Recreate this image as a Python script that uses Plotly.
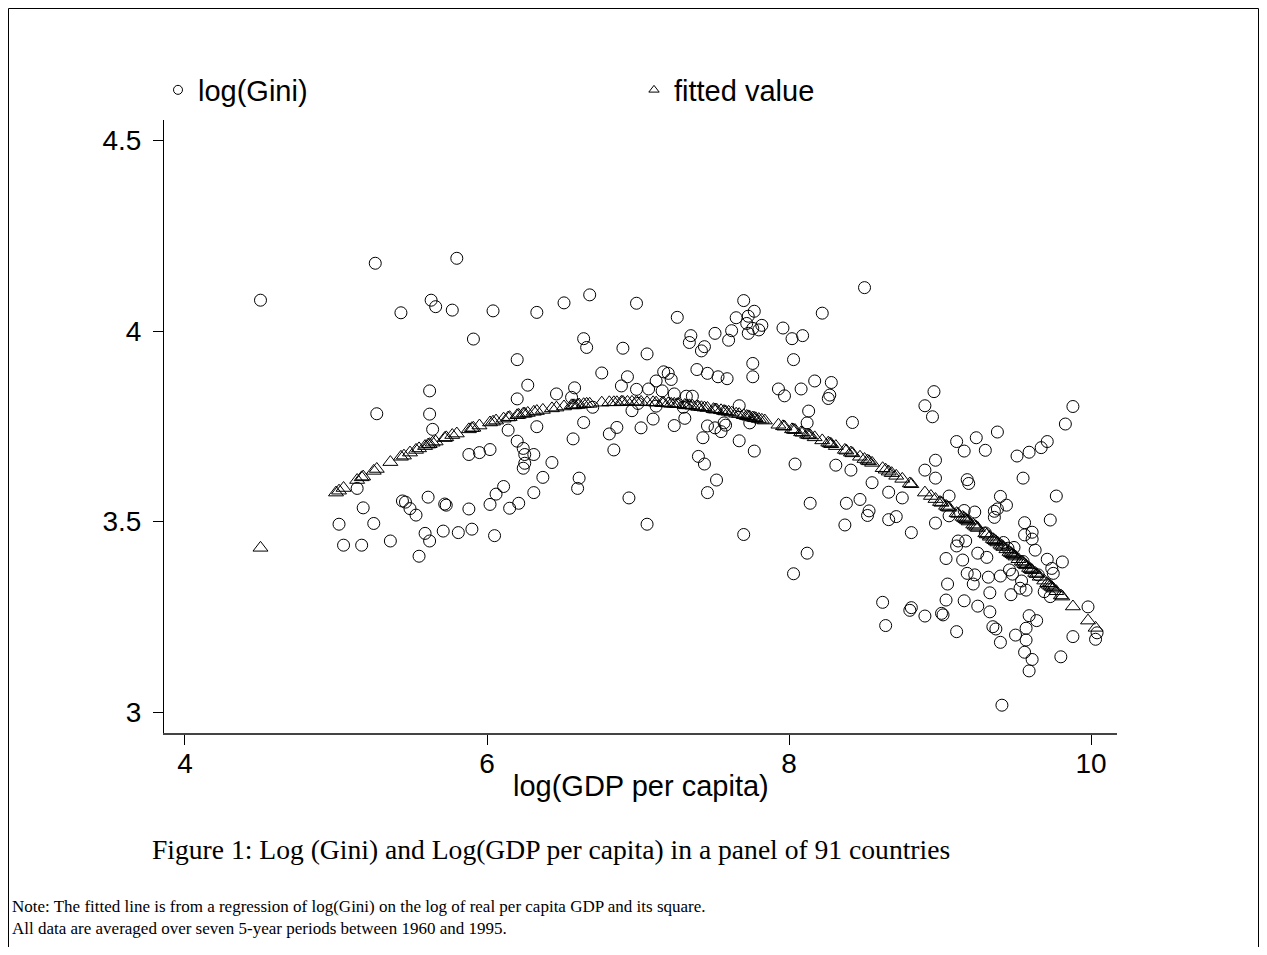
import plotly.graph_objects as go

# ---- data ----
gini_x = [
    4.50, 5.26, 5.80, 5.63, 5.66, 5.77, 5.43, 5.91, 5.62, 5.27, 5.62, 5.64, 5.88,
    5.14, 5.18, 5.02, 5.25, 5.05, 5.17, 5.36, 5.44, 5.46, 5.61, 5.49, 5.53, 5.59,
    5.62, 5.55, 5.72, 5.73, 5.71, 5.81, 5.88, 5.90,
    6.04, 6.33, 6.51, 6.68, 6.99, 7.26, 6.64, 6.66, 6.90, 7.06, 6.20, 6.76, 6.93,
    7.17, 7.20, 7.22, 7.12, 6.27, 6.58, 6.89, 6.99, 7.07, 7.16, 7.24, 6.20, 6.46,
    6.56, 6.96, 7.12, 7.10, 7.24, 6.14, 6.33, 6.64, 6.86, 7.02, 6.81, 6.57, 6.20,
    5.95, 6.02, 6.24, 6.25, 6.31, 6.25, 6.24, 6.43, 6.84, 6.37, 6.61,
    6.11, 6.06, 6.31, 6.60, 6.02, 6.15, 6.21, 6.94, 6.05, 7.06,
    8.50, 7.70, 8.22, 7.77, 7.73, 7.65, 7.82, 7.80, 7.76, 7.73, 7.72, 7.62, 7.60,
    7.51, 7.35, 7.34, 7.44, 7.42, 7.96, 8.02, 8.09, 8.03, 7.76, 7.76, 7.39, 7.46,
    7.53, 7.59, 7.93, 7.97, 8.08, 8.17, 8.28, 8.27, 8.26, 7.32, 7.36, 7.67, 8.13,
    8.12, 8.42, 7.31, 7.46, 7.51, 7.57, 7.58, 7.55, 7.74, 7.43, 7.67, 7.77, 7.40,
    7.44, 8.04, 8.31, 8.41, 7.52, 8.55,
    7.46, 8.14, 8.38, 8.47, 8.53, 8.52, 8.37, 8.66, 8.66, 7.70, 8.12, 8.03, 8.62,
    8.64,
    8.96, 8.90, 8.95, 9.88, 9.83, 9.38, 9.24, 9.11, 9.16, 9.30, 9.51, 9.59, 9.67,
    9.71, 8.97, 8.90, 8.97, 9.18, 9.55,
    9.19, 8.75, 9.06, 9.40, 9.77, 9.44, 9.16, 9.23, 9.36, 9.38, 9.36, 8.71, 8.97,
    9.06, 8.81, 9.56, 9.73, 9.56, 9.61, 9.61, 9.12, 9.11, 9.17, 9.42, 9.49, 9.63,
    9.25, 9.31, 9.04, 9.15, 9.71, 9.81, 9.74, 9.75, 9.18, 9.23, 9.32, 9.40, 9.46,
    9.48, 9.54, 9.53, 9.57, 9.05, 9.22, 9.33, 9.47, 9.69, 9.73, 9.04, 9.16, 8.80,
    8.81, 8.90, 9.01, 9.02, 9.25, 9.33, 9.98, 9.59, 9.64, 9.11, 9.35, 9.37, 9.57,
    9.50, 9.57, 9.88, 10.03, 9.40, 9.56, 9.61, 9.59, 9.80, 9.41, 10.04,
    9.30, 9.45, 9.55, 9.65, 6.70, 7.00, 7.30,
]
gini_y = [
    4.081, 4.178, 4.191, 4.081, 4.064, 4.055, 4.048, 3.979, 3.843, 3.783, 3.782, 3.742, 3.676,
    3.587, 3.536, 3.493, 3.495, 3.438, 3.438, 3.449, 3.554, 3.551, 3.564, 3.534, 3.517, 3.469,
    3.449, 3.409, 3.546, 3.543, 3.475, 3.471, 3.533, 3.480,
    4.053, 4.049, 4.074, 4.095, 4.073, 4.036, 3.980, 3.957, 3.955, 3.940, 3.925, 3.890, 3.880,
    3.893, 3.889, 3.873, 3.869, 3.858, 3.851, 3.856, 3.847, 3.848, 3.843, 3.835, 3.822, 3.835,
    3.826, 3.791, 3.803, 3.769, 3.752, 3.740, 3.749, 3.760, 3.747, 3.746, 3.730, 3.717, 3.711,
    3.681, 3.689, 3.692, 3.676, 3.676, 3.653, 3.640, 3.655, 3.688, 3.616, 3.614,
    3.592, 3.572, 3.576, 3.587, 3.545, 3.535, 3.548, 3.562, 3.463, 3.493,
    4.114, 4.080, 4.047, 4.052, 4.039, 4.035, 4.015, 4.003, 4.007, 3.994, 4.020, 4.001, 3.976,
    3.994, 3.988, 3.970, 3.959, 3.948, 4.008, 3.980, 3.988, 3.925, 3.915, 3.880, 3.899, 3.889,
    3.880, 3.875, 3.848, 3.830, 3.848, 3.869, 3.865, 3.832, 3.823, 3.829, 3.829, 3.804, 3.790,
    3.759, 3.760, 3.771, 3.751, 3.746, 3.759, 3.753, 3.736, 3.759, 3.720, 3.712, 3.685, 3.671,
    3.651, 3.651, 3.648, 3.635, 3.609, 3.602,
    3.576, 3.548, 3.548, 3.558, 3.528, 3.516, 3.491, 3.577, 3.505, 3.466, 3.417, 3.363, 3.288,
    3.227,
    3.841, 3.804, 3.775, 3.802, 3.756, 3.735, 3.720, 3.710, 3.685, 3.687, 3.672, 3.682, 3.694,
    3.710, 3.661, 3.635, 3.614, 3.610, 3.614,
    3.600, 3.562, 3.567, 3.566, 3.567, 3.543, 3.529, 3.525, 3.527, 3.533, 3.511, 3.513, 3.496,
    3.515, 3.471, 3.497, 3.504, 3.465, 3.472, 3.454, 3.449, 3.436, 3.449, 3.445, 3.432, 3.425,
    3.417, 3.406, 3.403, 3.399, 3.401, 3.394, 3.377, 3.364, 3.364, 3.360, 3.354, 3.357, 3.373,
    3.362, 3.344, 3.325, 3.320, 3.336, 3.336, 3.313, 3.308, 3.316, 3.303, 3.294, 3.292, 3.267,
    3.274, 3.252, 3.259, 3.255, 3.278, 3.263, 3.276, 3.253, 3.240, 3.211, 3.224, 3.218, 3.220,
    3.202, 3.189, 3.198, 3.191, 3.183, 3.157, 3.138, 3.108, 3.145, 3.018, 3.208,
    3.470, 3.430, 3.395, 3.360, 3.800, 3.810, 3.800,
]

fit_x = [
    4.50, 5.00, 5.02, 5.05, 5.14, 5.17, 5.18, 5.25, 5.27, 5.36, 5.43, 5.45, 5.49, 5.53,
    5.55, 5.59, 5.61, 5.62, 5.64, 5.66, 5.72, 5.73, 5.77, 5.80, 5.88, 5.90, 5.91, 5.95,
    6.02, 6.04, 6.06, 6.11, 6.14, 6.15, 6.20, 6.21, 6.24, 6.25, 6.27, 6.31, 6.33, 6.37,
    6.43, 6.46, 6.51, 6.56, 6.57, 6.58, 6.60, 6.61, 6.64, 6.66, 6.68, 6.76, 6.81, 6.84,
    6.86, 6.89, 6.90, 6.93, 6.96, 6.99, 7.02, 7.06, 7.10, 7.12, 7.16, 7.17, 7.20, 7.22,
    7.24, 7.26, 7.27, 7.31, 7.32, 7.34, 7.36, 7.39, 7.40, 7.42, 7.44, 7.46, 7.50, 7.51,
    7.52, 7.55, 7.57, 7.58, 7.60, 7.62, 7.65, 7.67, 7.70, 7.72, 7.73, 7.74, 7.76, 7.77,
    7.78, 7.80, 7.82, 7.84, 7.93, 7.96, 7.97, 8.02, 8.03, 8.04, 8.08, 8.09, 8.12, 8.13,
    8.14, 8.17, 8.22, 8.26, 8.27, 8.28, 8.31, 8.37, 8.38, 8.41, 8.42, 8.47, 8.50, 8.52,
    8.53, 8.55, 8.62, 8.64, 8.66, 8.68, 8.71, 8.75, 8.80, 8.81, 8.90, 8.94, 8.97, 9.00,
    9.01, 9.04, 9.05, 9.06, 9.11, 9.12, 9.15, 9.16, 9.17, 9.18, 9.19, 9.22, 9.23, 9.24,
    9.25, 9.30, 9.31, 9.33, 9.35, 9.36, 9.37, 9.38, 9.40, 9.41, 9.42, 9.44, 9.46, 9.47,
    9.48, 9.49, 9.50, 9.52, 9.54, 9.55, 9.56, 9.57, 9.59, 9.60, 9.61, 9.63, 9.64, 9.66,
    9.69, 9.71, 9.72, 9.73, 9.74, 9.75, 9.77, 9.80, 9.81, 9.88, 9.98, 10.03,
]
fit_y = [
    3.431, 3.576, 3.581, 3.588, 3.609, 3.616, 3.618, 3.633, 3.638, 3.656, 3.670, 3.673, 3.681, 3.688,
    3.692, 3.698, 3.702, 3.703, 3.707, 3.710, 3.719, 3.721, 3.727, 3.731, 3.742, 3.745, 3.746, 3.752,
    3.760, 3.762, 3.765, 3.770, 3.773, 3.774, 3.779, 3.780, 3.783, 3.783, 3.785, 3.788, 3.790, 3.793,
    3.797, 3.799, 3.802, 3.805, 3.805, 3.805, 3.806, 3.807, 3.808, 3.809, 3.809, 3.812, 3.813, 3.813,
    3.813, 3.814, 3.814, 3.814, 3.814, 3.814, 3.814, 3.813, 3.813, 3.812, 3.811, 3.811, 3.810, 3.809,
    3.809, 3.808, 3.808, 3.806, 3.805, 3.805, 3.804, 3.802, 3.801, 3.800, 3.799, 3.798, 3.795, 3.794,
    3.794, 3.792, 3.790, 3.789, 3.788, 3.786, 3.783, 3.782, 3.779, 3.777, 3.776, 3.775, 3.773, 3.772,
    3.771, 3.769, 3.767, 3.765, 3.754, 3.750, 3.749, 3.742, 3.741, 3.740, 3.734, 3.733, 3.728, 3.727,
    3.726, 3.721, 3.713, 3.707, 3.705, 3.703, 3.698, 3.688, 3.686, 3.681, 3.679, 3.670, 3.664, 3.660,
    3.658, 3.654, 3.640, 3.636, 3.631, 3.627, 3.620, 3.612, 3.600, 3.598, 3.576, 3.567, 3.559, 3.551,
    3.549, 3.541, 3.538, 3.536, 3.522, 3.520, 3.512, 3.509, 3.506, 3.503, 3.500, 3.492, 3.489, 3.486,
    3.483, 3.469, 3.466, 3.460, 3.454, 3.451, 3.448, 3.445, 3.439, 3.436, 3.433, 3.427, 3.420, 3.417,
    3.414, 3.411, 3.408, 3.401, 3.395, 3.392, 3.388, 3.385, 3.378, 3.375, 3.372, 3.365, 3.362, 3.355,
    3.345, 3.338, 3.334, 3.331, 3.328, 3.324, 3.317, 3.306, 3.303, 3.277, 3.240, 3.221,
]

x_ticks = [4, 6, 8, 10]
y_ticks = [3, 3.5, 4, 4.5]
y_tick_text = ["3", "3.5", "4", "4.5"]

# ---- layout geometry ----
# The page body has an 8px margin, so the figure is drawn 8px smaller and
# every position below is given in screen pixels of the 1267x955 window.
OFF = 8
W, H = 1267 - 2 * OFF, 955 - 2 * OFF
SL, SR, ST, SB = 164, 1117, 120, 733   # plot area on screen


def pxx(px):
    return (px - SL) / (SR - SL)


def pxy(py):
    return (SB - py) / (SB - ST)


SANS = "Liberation Sans, Arial, Helvetica, sans-serif"
SERIF = "Liberation Serif, Times New Roman, serif"

fig = go.Figure()
fig.add_trace(go.Scatter(
    x=gini_x, y=gini_y, mode="markers", name="log(Gini)", showlegend=False,
    marker=dict(symbol="circle-open", size=12, color="black", line=dict(width=1, color="black")),
))
fig.add_trace(go.Scatter(
    x=fit_x, y=fit_y, mode="markers", name="fitted value", showlegend=False,
    marker=dict(symbol="triangle-up-open", size=13, color="black", line=dict(width=1, color="black")),
))
# legend entries (smaller symbols as in the reference legend)
fig.add_trace(go.Scatter(
    x=[None], y=[None], mode="markers", name="log(Gini)",
    marker=dict(symbol="circle-open", size=9, color="black", line=dict(width=1)),
))
fig.add_trace(go.Scatter(
    x=[None], y=[None], mode="markers", name="fitted value",
    marker=dict(symbol="triangle-up-open", size=9, color="black", line=dict(width=1)),
))

fig.update_layout(
    width=W, height=H,
    margin=dict(l=SL - OFF, r=W - (SR - OFF), t=ST - OFF, b=H - (SB - OFF), autoexpand=False),
    paper_bgcolor="white", plot_bgcolor="white",
    font=dict(family=SANS, color="black", size=28),
    showlegend=True,
    legend=dict(
        orientation="h", x=pxx(158), y=pxy(90), xanchor="left", yanchor="middle",
        font=dict(family=SANS, size=29, color="black"),
        entrywidth=431, entrywidthmode="pixels", itemsizing="trace",
        bgcolor="rgba(0,0,0,0)",
    ),
    xaxis=dict(
        range=[3.861, 10.172], tickvals=x_ticks, ticks="outside", ticklen=10,
        tickcolor="black", showline=True, linecolor="#444", linewidth=2,
        showgrid=False, zeroline=False, tickfont=dict(family=SANS, size=28),
        ticklabelstandoff=-6,
    ),
    yaxis=dict(
        range=[2.945, 4.554], tickvals=y_ticks, ticktext=y_tick_text, ticks="outside",
        ticklen=10, tickcolor="black", showline=True, linecolor="black", linewidth=1,
        showgrid=False, zeroline=False, tickfont=dict(family=SANS, size=28),
        ticklabelstandoff=6,
    ),
)

fig.add_annotation(
    text="log(GDP per capita)", x=pxx(641), y=pxy(786), xref="paper", yref="paper",
    xanchor="center", yanchor="middle", showarrow=False,
    font=dict(family=SANS, size=29, color="black"),
)
fig.add_annotation(
    text="Figure 1: Log (Gini) and Log(GDP per capita) in a panel of 91 countries",
    x=pxx(150), y=pxy(849), xref="paper", yref="paper", xanchor="left", yanchor="middle",
    showarrow=False, font=dict(family=SERIF, size=27.6, color="black"),
)
fig.add_annotation(
    text=("Note: The fitted line is from a regression of log(Gini) on the log of real per capita GDP and its square."
          "<br>All data are averaged over seven 5-year periods between 1960 and 1995."),
    x=pxx(10), y=pxy(917), xref="paper", yref="paper", xanchor="left", yanchor="middle",
    align="left", showarrow=False, font=dict(family=SERIF, size=17, color="black"),
)

# outer frame of the figure
fig.add_shape(
    type="rect", xref="paper", yref="paper",
    x0=pxx(8.5), x1=pxx(1258.5), y0=pxy(990), y1=pxy(8.5),
    line=dict(color="black", width=1), fillcolor="rgba(0,0,0,0)", layer="above",
)

fig.write_html("out.html")
